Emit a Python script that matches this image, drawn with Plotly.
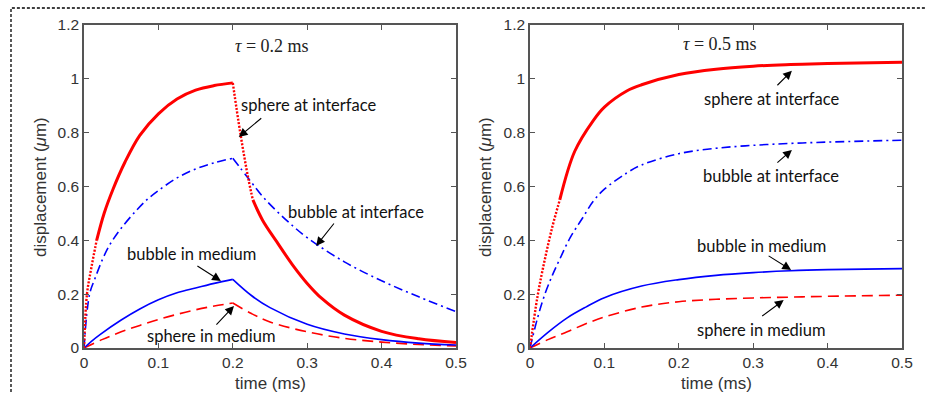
import plotly.graph_objects as go

W, H = 925, 394

# ---------------- data ----------------
# tau = 0.2 ms panel : sphere at interface (steep parts drawn dotted as in the original)
L_si_a_t = [0, 0.004, 0.01, 0.017]
L_si_a_v = [0, 0.2, 0.3, 0.4]
L_si_b_t = [0.017, 0.027, 0.039, 0.055, 0.075, 0.1, 0.125, 0.15, 0.175, 0.2]
L_si_b_v = [0.4, 0.5, 0.59, 0.69, 0.79, 0.87, 0.925, 0.958, 0.975, 0.985]
L_si_c_t = [0.2, 0.21, 0.221, 0.227]
L_si_c_v = [0.985, 0.8, 0.627, 0.55]
L_si_d_t = [0.227, 0.24, 0.259, 0.28, 0.3, 0.32, 0.35, 0.4, 0.45, 0.5]
L_si_d_v = [0.55, 0.475, 0.395, 0.31, 0.24, 0.183, 0.122, 0.062, 0.034, 0.02]

L_bi_t = [0, 0.0075, 0.015, 0.025, 0.035, 0.05, 0.07, 0.085, 0.1, 0.125, 0.15, 0.175, 0.2,
          0.221, 0.241, 0.27, 0.3, 0.35, 0.4, 0.45, 0.5]
L_bi_v = [0, 0.2, 0.26, 0.33, 0.385, 0.445, 0.51, 0.552, 0.585, 0.632, 0.665, 0.688, 0.705,
          0.63, 0.56, 0.48, 0.41, 0.32, 0.25, 0.19, 0.135]

L_bm_t = [0, 0.01, 0.0215, 0.05, 0.075, 0.1, 0.125, 0.15, 0.175, 0.2,
          0.225, 0.25, 0.3, 0.35, 0.4, 0.45, 0.5]
L_bm_v = [0, 0.025, 0.05, 0.104, 0.145, 0.179, 0.205, 0.223, 0.24, 0.255,
          0.195, 0.15, 0.088, 0.052, 0.031, 0.018, 0.011]

L_sm_t = [0, 0.025, 0.05, 0.075, 0.1, 0.125, 0.15, 0.175, 0.2,
          0.225, 0.25, 0.3, 0.35, 0.4, 0.45, 0.5]
L_sm_v = [0, 0.032, 0.06, 0.084, 0.106, 0.125, 0.142, 0.156, 0.167,
          0.128, 0.097, 0.06, 0.036, 0.022, 0.013, 0.008]

# tau = 0.5 ms panel
R_si_a_t = [0, 0.01, 0.02, 0.03, 0.04]
R_si_a_v = [0, 0.19, 0.33, 0.45, 0.55]
R_si_b_t = [0.04, 0.06, 0.085, 0.1, 0.13, 0.15, 0.2, 0.25, 0.3, 0.35, 0.4, 0.5]
R_si_b_v = [0.55, 0.73, 0.845, 0.895, 0.955, 0.978, 1.016, 1.036, 1.047, 1.053, 1.057, 1.062]

R_bi_t = [0, 0.01, 0.02, 0.03, 0.04, 0.054, 0.07, 0.085, 0.1, 0.13, 0.15, 0.2, 0.25, 0.3, 0.35, 0.4, 0.5]
R_bi_v = [0, 0.11, 0.2, 0.27, 0.33, 0.41, 0.48, 0.545, 0.59, 0.65, 0.68, 0.722, 0.742, 0.753, 0.76, 0.765, 0.772]

R_bm_t = [0, 0.025, 0.05, 0.075, 0.1, 0.15, 0.2, 0.25, 0.3, 0.35, 0.4, 0.5]
R_bm_v = [0, 0.06, 0.112, 0.152, 0.187, 0.23, 0.254, 0.27, 0.28, 0.287, 0.291, 0.295]

R_sm_t = [0, 0.025, 0.05, 0.075, 0.1, 0.15, 0.2, 0.25, 0.3, 0.35, 0.4, 0.5]
R_sm_v = [0, 0.032, 0.06, 0.09, 0.115, 0.152, 0.172, 0.181, 0.186, 0.189, 0.192, 0.196]

x_ticks = [0, 0.1, 0.2, 0.3, 0.4, 0.5]
x_tick_text = ["0", "0.1", "0.2", "0.3", "0.4", "0.5"]
y_ticks = [0, 0.2, 0.4, 0.6, 0.8, 1.0, 1.2]
y_tick_text = ["0", "0.2", "0.4", "0.6", "0.8", "1", "1.2"]

panel_titles = ["<i>τ</i> = 0.2 ms", "<i>τ</i> = 0.5 ms"]
labels = ["sphere at interface", "bubble at interface", "bubble in medium", "sphere in medium"]

# ---------------- styles ----------------
RED, BLUE = "#ff0000", "#0000ff"
styles = {
    "si": dict(color=RED, width=3),
    "sidot": dict(color=RED, width=2.4, dash="2px,1.6px"),
    "bi": dict(color=BLUE, width=1.6, dash="9px,4px,2px,4px"),
    "bm": dict(color=BLUE, width=1.6),
    "sm": dict(color=RED, width=1.6, dash="11px,6px"),
}

fig = go.Figure()

def add(t, v, key, xa, ya, shape="spline"):
    fig.add_trace(go.Scatter(x=t, y=v, mode="lines", line=dict(shape=shape, smoothing=1.0, **styles[key]),
                             xaxis=xa, yaxis=ya, showlegend=False, hoverinfo="skip"))

# left panel
add(L_bi_t[:13], L_bi_v[:13], "bi", "x", "y")
add(L_bi_t[12:], L_bi_v[12:], "bi", "x", "y")
add(L_sm_t[:9], L_sm_v[:9], "sm", "x", "y")
add(L_sm_t[8:], L_sm_v[8:], "sm", "x", "y")
add(L_bm_t[:10], L_bm_v[:10], "bm", "x", "y")
add(L_bm_t[9:], L_bm_v[9:], "bm", "x", "y")
add(L_si_a_t, L_si_a_v, "sidot", "x", "y")
add(L_si_b_t, L_si_b_v, "si", "x", "y")
add(L_si_c_t, L_si_c_v, "sidot", "x", "y")
add(L_si_d_t, L_si_d_v, "si", "x", "y")
# right panel
add(R_bi_t, R_bi_v, "bi", "x2", "y2")
add(R_sm_t, R_sm_v, "sm", "x2", "y2")
add(R_bm_t, R_bm_v, "bm", "x2", "y2")
add(R_si_a_t, R_si_a_v, "sidot", "x2", "y2")
add(R_si_b_t, R_si_b_v, "si", "x2", "y2")

ydom = [1 - 348 / H, 1 - 25 / H]
axis_common = dict(showline=True, linecolor="#555555", linewidth=1.5, mirror="ticks",
                   ticks="inside", ticklen=5, tickwidth=1.3, tickcolor="#555555",
                   showgrid=False, zeroline=False, automargin=False,
                   tickfont=dict(family="Liberation Sans, Arial", size=15.5, color="#333333"))

fig.update_layout(
    template="none",
    width=W, height=H, margin=dict(l=0, r=0, t=0, b=0, pad=0), autosize=False,
    paper_bgcolor="white", plot_bgcolor="white",
    xaxis=dict(domain=[84 / W, 456 / W], range=[0, 0.5], tickvals=x_ticks, ticktext=x_tick_text,
               anchor="y", **axis_common),
    yaxis=dict(domain=ydom, range=[0, 1.2], tickvals=y_ticks, ticktext=y_tick_text,
               anchor="x", **axis_common),
    xaxis2=dict(domain=[530 / W, 902 / W], range=[0, 0.5], tickvals=x_ticks, ticktext=x_tick_text,
                anchor="y2", **axis_common),
    yaxis2=dict(domain=ydom, range=[0, 1.2], tickvals=y_ticks, ticktext=y_tick_text,
                anchor="x2", **axis_common),
)

ann = []
title_font = dict(family="Liberation Sans, Arial", size=17, color="#333333")
# axis titles
for cx in [40, 485]:
    ann.append(dict(x=cx / W, y=1 - 187 / H, xref="paper", yref="paper", text="displacement (<i>μ</i>m)",
                    textangle=-90, showarrow=False, font=title_font, xanchor="center", yanchor="middle"))
for cx in [270, 716]:
    ann.append(dict(x=cx / W, y=1 - 383 / H, xref="paper", yref="paper", text="time (ms)",
                    showarrow=False, font=title_font, xanchor="center", yanchor="middle"))

# panel titles
serif = dict(family="Liberation Serif, DejaVu Serif", size=18, color="#222222")
ann.append(dict(x=0.253, y=1.123, xref="x", yref="y", text=panel_titles[0], showarrow=False, font=serif))
ann.append(dict(x=0.255, y=1.13, xref="x2", yref="y2", text=panel_titles[1], showarrow=False, font=serif))

lab_font = dict(family="Lato, Open Sans", size=16.5, color="#111111")
# label texts (x, y) per panel
L_lab_pos = [(0.302, 0.903), (0.366, 0.506), (0.145, 0.349), (0.171, 0.045)]
R_lab_pos = [(0.324, 0.926), (0.324, 0.639), (0.3105, 0.379), (0.3105, 0.067)]
# arrow heads (data) and tail offsets (px)
L_arrows = [(0.208, 0.784, 24, -20), (0.312, 0.379, 19, -24), (0.184, 0.249, -25, -16), (0.2016, 0.156, -19, 20)]
R_arrows = [(0.352, 1.03, -16, 16), (0.352, 0.736, -16, 14), (0.351, 0.29, -24, -15), (0.341, 0.178, -23, 17)]

for (xa, ya, pos, arrows) in [("x", "y", L_lab_pos, L_arrows), ("x2", "y2", R_lab_pos, R_arrows)]:
    for lab, (tx, ty), (hx, hy, ax, ay) in zip(labels, pos, arrows):
        ann.append(dict(x=tx, y=ty, xref=xa, yref=ya, text=lab, showarrow=False, font=lab_font))
        ann.append(dict(x=hx, y=hy, xref=xa, yref=ya, text="", showarrow=True, ax=ax, ay=ay,
                        arrowhead=2, arrowsize=1.6, arrowwidth=1.1, arrowcolor="black", standoff=0))

fig.update_layout(annotations=ann)

# dashed border around the figure
fig.add_shape(type="rect", xref="paper", yref="paper", x0=11 / W, x1=1.02, y0=-0.02, y1=1 - 8 / H,
              line=dict(color="black", width=1.3, dash="3px,2px"))

fig.write_html("out.html", config={"displayModeBar": False},
               post_script="document.body.style.margin='0px';")
